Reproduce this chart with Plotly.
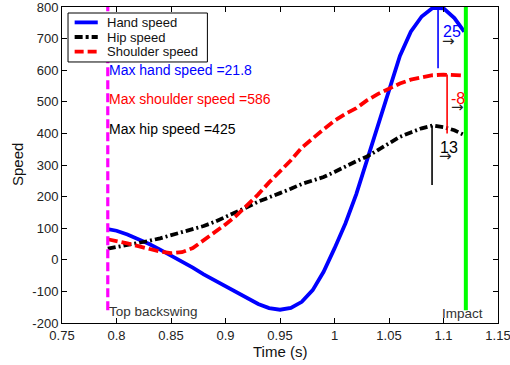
import plotly.graph_objects as go

# ---------------- data ----------------
time = [0.792, 0.80, 0.81, 0.82, 0.83, 0.84, 0.85, 0.86, 0.87, 0.88, 0.89,
        0.90, 0.91, 0.92, 0.93, 0.94, 0.95, 0.96, 0.97, 0.98, 0.99,
        1.00, 1.01, 1.02, 1.03, 1.04, 1.05, 1.06, 1.07, 1.08, 1.09,
        1.10, 1.11, 1.119]

hand_speed = [97, 92, 80, 66, 50, 32, 13, -4, -25, -46, -65,
              -85, -104, -122, -140, -153, -158, -152, -133, -96, -38,
              36, 115, 208, 318, 428, 540, 645, 722, 770, 797,
              796, 765, 722]

hip_speed = [35, 40, 45, 52, 60, 68, 77, 86, 95, 107, 120,
             135, 150, 167, 184, 199, 211, 225, 240, 251, 262,
             278, 296, 312, 327, 348, 368, 389, 403, 416, 425,
             420, 410, 395]

shoulder_speed = [65, 60, 52, 43, 34, 26, 21, 24, 37, 62, 85,
                  112, 140, 172, 207, 245, 278, 315, 355, 385, 413,
                  440, 462, 480, 505, 525, 542, 558, 570, 578, 584,
                  586, 586, 583]

t_top_backswing = 0.792
t_impact = 1.1205
event_span = [-160, 800]

lag_times = [1.095, 1.1033, 1.0895]     # hand, shoulder, hip
lag_low = [606, 400, 237]
lag_high = [800, 586, 425]
lag_labels = ["25", "-8", "13"]

max_labels = ["Max hand speed =21.8", "Max shoulder speed =586", "Max hip speed =425"]
series_names = ["Hand speed", "Hip speed", "Shoulder speed"]

x_ticks = [0.75, 0.8, 0.85, 0.9, 0.95, 1.0, 1.05, 1.1, 1.15]
x_tick_labels = ["0.75", "0.8", "0.85", "0.9", "0.95", "1", "1.05", "1.1", "1.15"]
y_ticks = [-200, -100, 0, 100, 200, 300, 400, 500, 600, 700, 800]
y_tick_labels = [str(v) for v in y_ticks]

# ---------------- styles ----------------
FONT = "Liberation Sans, Arial, sans-serif"
BLUE = "#0000ff"
RED = "#ff0000"
BLACK = "#000000"
MAGENTA = "#ff00ff"
GREEN = "#00ff00"
DASH_RED = "10px,4px"
DASH_BLACK = "8px,3px,2px,3px"
LW = 3.8

fig = go.Figure()

fig.add_trace(go.Scatter(x=time, y=hand_speed, mode="lines", name=series_names[0],
                         line=dict(color=BLUE, width=LW), showlegend=False))
fig.add_trace(go.Scatter(x=time, y=hip_speed, mode="lines", name=series_names[1],
                         line=dict(color=BLACK, width=LW, dash=DASH_BLACK), showlegend=False))
fig.add_trace(go.Scatter(x=time, y=shoulder_speed, mode="lines", name=series_names[2],
                         line=dict(color=RED, width=LW, dash=DASH_RED), showlegend=False))

# event lines
fig.add_trace(go.Scatter(x=[t_top_backswing, t_top_backswing], y=event_span, mode="lines",
                         line=dict(color=MAGENTA, width=3.2, dash="9px,4px"), showlegend=False))
fig.add_trace(go.Scatter(x=[t_impact, t_impact], y=event_span, mode="lines",
                         line=dict(color=GREEN, width=4), showlegend=False))

# lag marker lines
for t, lo, hi, c in zip(lag_times, lag_low, lag_high, [BLUE, RED, BLACK]):
    fig.add_trace(go.Scatter(x=[t, t], y=[lo, hi], mode="lines",
                             line=dict(color=c, width=1.6), showlegend=False))

annotations = []

# max labels
for txt, yv, c in zip(max_labels, [601, 508, 414], [BLUE, RED, BLACK]):
    annotations.append(dict(x=t_top_backswing, y=yv, xref="x", yref="y", text=txt,
                            showarrow=False, xanchor="left", yanchor="middle",
                            xshift=-1, font=dict(family=FONT, size=14, color=c)))

# lag labels and arrows
lag_pos = [(1.0993, 724), (1.1072, 512), (1.0965, 354)]
arrow_pos = [(1.0985, 694), (1.1066, 482), (1.0956, 328)]
for txt, (xp, yp), (xa, ya), c in zip(lag_labels, lag_pos, arrow_pos, [BLUE, RED, BLACK]):
    annotations.append(dict(x=xp, y=yp, xref="x", yref="y", text=txt, showarrow=False,
                            xanchor="left", yanchor="middle", xshift=-2,
                            font=dict(family=FONT, size=16, color=c)))
    annotations.append(dict(x=xa, y=ya, xref="x", yref="y", text="→", showarrow=False,
                            xanchor="left", yanchor="middle", xshift=-2,
                            font=dict(family="DejaVu Sans", size=15, color="#222222")))

# event labels
annotations.append(dict(x=t_top_backswing, y=-163, xref="x", yref="y", text="Top backswing",
                        showarrow=False, xanchor="left", yanchor="middle", xshift=-1,
                        font=dict(family=FONT, size=13.5, color="#333333")))
annotations.append(dict(x=1.099, y=-170, xref="x", yref="y", text="Impact",
                        showarrow=False, xanchor="left", yanchor="middle", xshift=-2,
                        font=dict(family=FONT, size=13.5, color="#333333")))

# axis titles
annotations.append(dict(x=0.5, y=-0.09, xref="paper", yref="paper", text="Time (s)",
                        showarrow=False, xanchor="center", yanchor="middle",
                        font=dict(family=FONT, size=15, color="#111111")))
annotations.append(dict(x=0, y=0.5, xref="paper", yref="paper", text="Speed", textangle=-90,
                        showarrow=False, xanchor="center", yanchor="middle", xshift=-45,
                        font=dict(family=FONT, size=15, color="#111111")))

# manual legend
shapes = [dict(type="rect", xref="paper", yref="paper", x0=0.0138, x1=0.3335, y0=0.826, y1=0.981,
               line=dict(color=BLACK, width=1), fillcolor="white", layer="above")]
leg_y = [0.9513, 0.905, 0.8585]
leg_style = [dict(color=BLUE, width=LW), dict(color=BLACK, width=LW, dash="8px,3px,3px,3px"),
             dict(color=RED, width=LW, dash="9px,4px")]
for name, yy, st in zip(series_names, leg_y, leg_style):
    shapes.append(dict(type="line", xref="paper", yref="paper", x0=0.029, x1=0.082, y0=yy, y1=yy,
                       line=st, layer="above"))
    annotations.append(dict(x=0.1025, y=yy, xref="paper", yref="paper", text=name, showarrow=False,
                            xanchor="left", yanchor="middle", xshift=-2,
                            font=dict(family=FONT, size=13, color="#111111")))

axis_common = dict(showgrid=False, zeroline=False, showline=True, linecolor="#000000", linewidth=1,
                   mirror="ticks", ticks="inside", ticklen=5, tickcolor="#000000",
                   ticklabeloverflow="allow", automargin=False,
                   tickfont=dict(family=FONT, size=13, color="#222222"), tickmode="array")

fig.update_layout(
    width=510, height=365, autosize=False,
    margin=dict(l=62, r=12, t=7, b=42),
    paper_bgcolor="white", plot_bgcolor="white",
    showlegend=False,
    xaxis=dict(range=[0.75, 1.15], tickvals=x_ticks, ticktext=x_tick_labels, **axis_common),
    yaxis=dict(range=[-200, 800], tickvals=y_ticks, ticktext=y_tick_labels, **axis_common),
    annotations=annotations,
    shapes=shapes,
)

fig.write_html("out.html", config={"displayModeBar": False, "responsive": False},
               post_script="document.body.style.margin='0';")
